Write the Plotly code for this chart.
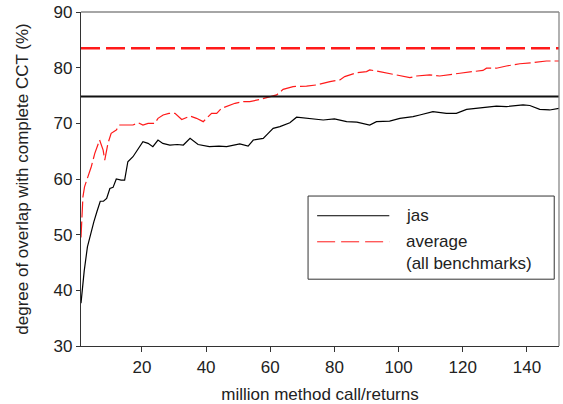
import plotly.graph_objects as go

# ---- data ----
jas_x = [1, 2, 3, 4, 5, 6, 7, 8, 9, 10, 11, 12, 13.5, 14.6, 15.6, 17.2, 18.8, 20.3, 21.9, 23.4,
         25, 26.5, 28.7, 31, 32.9, 35, 37.5, 41, 44, 46.4, 50.5, 53.1, 54.7, 57.8, 59.5, 60.9,
         63, 66.1, 68.2, 72, 76.5, 80, 83.8, 87, 91, 93.1, 97.2, 100.4, 104.5, 106.6, 110.7,
         114.9, 118, 121.2, 124.3, 127, 130.5, 133.6, 136, 138.8, 140.9, 144, 147.1, 150]
jas_y = [37.7, 43.5, 47.8, 50.2, 52.3, 54.2, 56, 56, 56.5, 58.3, 58.5, 60, 59.8, 59.8, 63.1, 64,
         65.5, 66.7, 66.4, 65.8, 67, 66.4, 66.1, 66.2, 66.1, 67.3, 66.2, 65.8, 65.9, 65.8, 66.3,
         65.9, 67, 67.3, 68.3, 69.1, 69.4, 70.1, 71.1, 70.9, 70.6, 70.8, 70.3, 70.2, 69.7, 70.3,
         70.4, 70.9, 71.2, 71.5, 72.1, 71.8, 71.8, 72.5, 72.7, 72.9, 73.1, 73, 73.2, 73.3, 73.2,
         72.5, 72.4, 72.7]

avg_x = [1, 1.6, 2.1, 3.2, 4.2, 5.3, 6.3, 6.8, 7.9, 8.4, 9.4, 10.4, 12, 13.1, 15.1, 17.2, 18.8,
         20.3, 21.9, 24, 25, 26.6, 28.4, 30.3, 32.4, 35, 37, 39.1, 41.7, 43.3, 44.8, 46.4, 49,
         51.6, 53.6, 56.8, 59.9, 62, 64, 67.1, 71.3, 74.4, 78.6, 81.7, 83.2, 86.9, 90, 91, 94.1,
         97.2, 100.4, 103.5, 105.6, 109.7, 112.8, 116, 119.1, 123.2, 126.3, 127.4, 130.5, 133.6,
         137.8, 141.9, 146.1, 150]
avg_y = [49.5, 56.8, 58.6, 60.4, 62.2, 64.6, 66.4, 67, 65.2, 63.4, 66.4, 68.2, 68.8, 69.7, 69.7,
         69.7, 70.1, 69.7, 70, 70, 70.9, 71.5, 71.8, 71.8, 70.7, 71.3, 70.9, 70.3, 71.8, 71.8,
         72.7, 73, 73.6, 73.9, 73.9, 74.3, 74.7, 75.1, 76.1, 76.6, 76.7, 76.9, 77.5, 77.8, 78.4,
         79.1, 79.3, 79.6, 79.3, 78.9, 78.5, 78.2, 78.5, 78.7, 78.5, 78.7, 79, 79.3, 79.5, 79.9,
         79.9, 80.3, 80.7, 80.9, 81.2, 81.2]

jas_final = 74.8
avg_final = 83.5

x_ticks = [20, 40, 60, 80, 100, 120, 140]
y_ticks = [30, 40, 50, 60, 70, 80, 90]

legend_labels = ["jas", "average<br>(all benchmarks)"]

FONT = "Liberation Sans, Arial, sans-serif"
TXT = "#222222"
FS = 17

fig = go.Figure()
fig.add_trace(go.Scatter(x=jas_x, y=jas_y, mode="lines", showlegend=False,
                         line=dict(color="black", width=1.2)))
fig.add_trace(go.Scatter(x=avg_x, y=avg_y, mode="lines", showlegend=False,
                         line=dict(color="#ff1a1a", width=1.2, dash="16px,4px")))
fig.add_trace(go.Scatter(x=[1, 150], y=[jas_final, jas_final], mode="lines", showlegend=False,
                         line=dict(color="#111111", width=2)))
fig.add_trace(go.Scatter(x=[1, 150], y=[avg_final, avg_final], mode="lines", showlegend=False,
                         line=dict(color="#ff1a1a", width=2.4, dash="19px,6px")))

# frame: top/right in gray
fig.add_shape(type="line", xref="paper", yref="paper", x0=0, x1=1, y0=1, y1=1,
              line=dict(color="#888888", width=1.3))
fig.add_shape(type="line", xref="paper", yref="paper", x0=1, x1=1, y0=0, y1=1,
              line=dict(color="#888888", width=1.3))

# legend box
fig.add_shape(type="rect", xref="paper", yref="paper", x0=0.475, x1=0.990, y0=0.2, y1=0.449,
              line=dict(color="#333333", width=1), fillcolor="white", layer="above")
fig.add_shape(type="line", xref="paper", yref="paper", x0=0.494, x1=0.645, y0=0.390, y1=0.390,
              line=dict(color="black", width=1), layer="above")
fig.add_shape(type="line", xref="paper", yref="paper", x0=0.494, x1=0.645, y0=0.312, y1=0.312,
              line=dict(color="#ff1a1a", width=1, dash="18px,6px"), layer="above")
fig.add_annotation(xref="paper", yref="paper", x=0.676, y=0.392, text=legend_labels[0],
                   showarrow=False, xanchor="left", yanchor="middle",
                   font=dict(family=FONT, size=FS, color=TXT))
fig.add_annotation(xref="paper", yref="paper", x=0.676, y=0.314, text=legend_labels[1],
                   showarrow=False, xanchor="left", yanchor="top", yshift=11, align="left",
                   font=dict(family=FONT, size=FS, color=TXT))

fig.update_layout(
    width=563, height=404,
    margin=dict(l=81, r=4, t=12, b=58),
    paper_bgcolor="white", plot_bgcolor="white",
    font=dict(family=FONT, size=FS, color=TXT),
    xaxis=dict(range=[1, 150], tickvals=x_ticks, ticks="outside", ticklen=5, tickcolor="#333",
               showline=True, linecolor="#333333", linewidth=1.3, showgrid=False, zeroline=False,
               automargin=False, tickfont=dict(size=FS, color=TXT),
               title=dict(text="million method call/returns", font=dict(size=FS, color=TXT),
                          standoff=12)),
    yaxis=dict(range=[30, 90], tickvals=y_ticks, ticks="outside", ticklen=4, tickcolor="#333",
               showline=True, linecolor="#333333", linewidth=1.3, showgrid=False, zeroline=False,
               automargin=False, tickfont=dict(size=FS, color=TXT),
               title=dict(text="degree of overlap with complete CCT (%)",
                          font=dict(size=FS, color=TXT), standoff=20)),
)

fig.write_html("out.html", config={"displayModeBar": False},
               post_script="document.body.style.margin='0';document.body.style.overflow='hidden';")
